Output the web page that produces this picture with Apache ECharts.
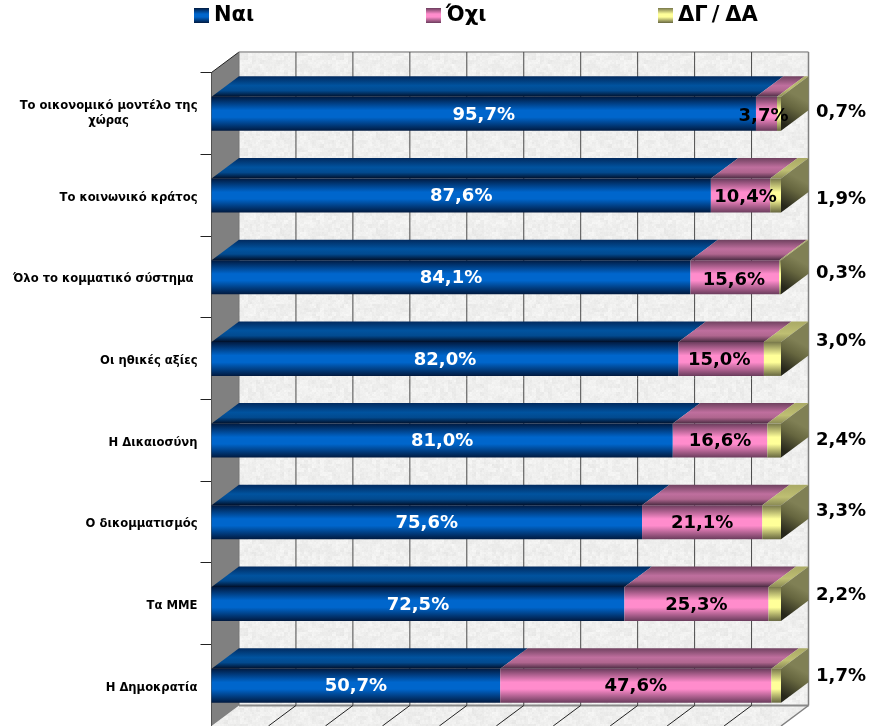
<!DOCTYPE html>
<html><head><meta charset="utf-8">
<style>html,body{margin:0;padding:0;background:#fff;overflow:hidden}#c{width:877px;height:726px}</style>
<script src="https://cdn.jsdelivr.net/npm/echarts@6/dist/echarts.min.js"></script>
</head><body><div id="c"></div>
<script>
const categories = ["Το οικονομικό μοντέλο της\nχώρας","Το κοινωνικό κράτος","Όλο το κομματικό σύστημα ","Οι ηθικές αξίες","Η Δικαιοσύνη","Ο δικομματισμός","Τα ΜΜΕ","Η Δημοκρατία"];
const seriesNames = ["Ναι","Όχι","ΔΓ/ΔΑ"];
const yes = [95.7,87.6,84.1,82.0,81.0,75.6,72.5,50.7];
const no = [3.7,10.4,15.6,15.0,16.6,21.1,25.3,47.6];
const dk = [0.7,1.9,0.3,3.0,2.4,3.3,2.2,1.7];
const valueTicks = [0,10,20,30,40,50,60,70,80,90,100];

// hand-moved labels of the original (pixel nudges, not data)
const noLabelNudge = [[-3,1],[5,1],[-1,2],[-2,0],[0,0],[0,0],[0,0],[0,0]];
const dkLabelY = [111,198,272,340,439,510,594,675];

const DX = 27.5, DY = -20.5, BAR_H = 34, SHIFT = 0.5, FONT = '"DejaVu Sans", Verdana, sans-serif';
const v = (stops)=>({type:'linear',x:0,y:0,x2:0,y2:1,colorStops:stops.map(s=>({offset:s[0],color:s[1]}))});
const front = [
  v([[0,'#011a40'],[.4,'#0066cc'],[.6,'#0066cc'],[1,'#011a40']]),
  v([[0,'#6a3c5c'],[.4,'#ff8ccc'],[.6,'#ff8ccc'],[1,'#6a3c5c']]),
  v([[0,'#77774a'],[.4,'#ffff99'],[.6,'#ffff99'],[1,'#66663f']])
];
const top_ = [
  v([[0,'#022a5e'],[.45,'#01539f'],[.7,'#024a8f'],[1,'#010f28']]),
  v([[0,'#6f415f'],[.45,'#bf6f9e'],[.7,'#b0668f'],[1,'#4a2b42']]),
  v([[0,'#a9a965'],[.6,'#bfbf73'],[1,'#8a8a55']])
];
const side = {type:'linear',x:0,y:0.85,x2:0.55,y2:0.35,colorStops:[{offset:0,color:'#26261a'},{offset:.6,color:'#66663f'},{offset:1,color:'#808055'}]};

function texture(){
  const c=document.createElement('canvas');c.width=c.height=96;const g=c.getContext('2d');
  const h=(x,y)=>{const s=Math.sin(x*127.1+y*311.7)*43758.5453;return s-Math.floor(s);};
  for(let y=0;y<96;y++)for(let x=0;x<96;x++){
    const n=(h(x,y)*.5+h(x>>1,y>>1)+h(x>>2,y>>2)*1.5)/3;
    const k=Math.round(229+n*20);
    g.fillStyle=`rgb(${k},${k},${k-1})`;g.fillRect(x,y,1,1);
  }
  return c;
}
const tex={image:texture(),repeat:'repeat'};

const sums = yes.map((y,i)=>y+no[i]+dk[i]);
const fmt = x=>x.toFixed(1).replace('.',',')+'%';
const poly=(pts,fill,z)=>({type:'polygon',shape:{points:pts},style:{fill:fill,stroke:null},z2:z||0});
const line=(a,b,col,w)=>({type:'line',shape:{x1:a[0],y1:a[1],x2:b[0],y2:b[1]},style:{stroke:col,lineWidth:w||1}});

function wall(params,api){
  const x=api.value(0), n=categories.length;
  const band=api.size([0,1])[1];
  const yT=api.coord([0,0])[1]-band/2, yB=api.coord([0,n-1])[1]+band/2;
  const x0=api.coord([0,0])[0], x1=api.coord([100,0])[0], px=api.coord([x,0])[0];
  const kids=[];
  if(params.dataIndex===0){
    kids.push(poly([[x0+DX,yT+DY],[x1+DX,yT+DY],[x1+DX,yB+DY],[x0+DX,yB+DY]],tex));
    kids.push(poly([[x0,yB],[x0+DX,yB+DY],[x1+DX,yB+DY],[x1,yB]],tex));
    kids.push(poly([[x0,yT],[x0+DX,yT+DY],[x0+DX,yB+DY],[x0,yB]],'#808080'));
    kids.push(line([x0,yT],[x0+DX,yT+DY],'#222',1));
    kids.push(line([x0+DX,yT+DY],[x1+DX,yT+DY],'#b0b0b0',2));
    kids.push(line([x0+DX,yB+DY],[x1+DX,yB+DY],'#8a8a8a',2));
    kids.push(line([x1+DX,yT+DY],[x1+DX,yB+DY],'#808080',1.5));
    kids.push(line([x1+DX,yB+DY],[x1,yB],'#808080',1.5));
  }
  if(x>0 && x<100){
    kids.push(line([px+DX,yT+DY],[px+DX,yB+DY],'#4a4a4a',1));
    kids.push(line([px+DX,yB+DY],[px,yB],'#222',1));
  } else if(x===0){
    kids.push(line([px+DX,yT+DY],[px+DX,yB+DY],'#777',1));
  }
  return {type:'group',children:kids};
}

function barRender(si){
  return function(params,api){
    const i=api.value(0), a=api.value(1), b=api.value(2);
    const p0=api.coord([a,i]), p1=api.coord([b,i]);
    const yc=p0[1]+SHIFT, t=yc-BAR_H/2, bt=yc+BAR_H/2, l=p0[0], r=p1[0];
    const kids=[
      poly([[l,t],[r,t],[r+DX,t+DY],[l+DX,t+DY]],top_[si]),
      poly([[l,t],[r,t],[r,bt],[l,bt]],front[si])
    ];
    if(si===2) kids.push(poly([[r,t],[r+DX,t+DY],[r+DX,bt+DY],[r,bt]],side));
    return {type:'group',children:kids};
  };
}
function labelRender(si){
  return function(params,api){
    const i=api.value(0), a=api.value(1), b=api.value(2), val=api.value(3);
    const p0=api.coord([a,i]), p1=api.coord([b,i]);
    let tx=(p0[0]+p1[0])/2, ty=p0[1]+SHIFT+1;
    if(si===1){tx+=noLabelNudge[i][0];ty+=noLabelNudge[i][1];}
    if(si===2){tx=841;ty=dkLabelY[i]+1;}
    return {type:'text',style:{text:fmt(val),x:tx,y:ty,align:'center',verticalAlign:'middle',
      font:'bold 18px '+FONT,fill:si===0?'#ffffff':'#000000'}};
  };
}
function rows(si){
  return categories.map((c,i)=>{
    const vals=[yes[i],no[i],dk[i]];
    let a=0;for(let k=0;k<si;k++)a+=vals[k]/sums[i]*100;
    return [i,a,a+vals[si]/sums[i]*100,vals[si]];
  });
}
const legendLeft=[194,426,658];
const lgFont={fontFamily:FONT,fontWeight:'bold',fontSize:21,color:'#000'};
const catFont={fontFamily:FONT,fontWeight:'bold',fontSize:11.6,color:'#000',lineHeight:16};
const option={
  animation:false,
  backgroundColor:'#ffffff',
  legend:seriesNames.map((n,i)=>({data:[n],left:legendLeft[i],top:5,padding:0,orient:'horizontal',itemWidth:15,itemHeight:15,itemGap:7,
    icon:'rect',selectedMode:false,
    formatter:s=>s.includes('/')?'{a|'+s.split('/')[0]+'}{s|/}{a|'+s.split('/')[1]+'}':s,
    textStyle:{...lgFont,rich:{a:{...lgFont},s:{...lgFont,padding:[0,6,0,4]}}}})),
  grid:{left:211.5,top:72.5,width:569.5,height:656,containLabel:false},
  xAxis:{type:'value',min:0,max:100,interval:10,show:false},
  yAxis:{type:'category',inverse:true,data:categories,
    axisLine:{show:true,lineStyle:{color:'#222',width:1}},
    axisTick:{show:true,length:11,lineStyle:{color:'#222'}},
    splitLine:{show:false},
    axisLabel:{margin:14,align:'right',...catFont,interval:0,
      formatter:s=>{const l=s.split('\n');return '{p|'+l[0]+'}'+(l[1]?'\n{q|'+l[1]+'}':'');},
      rich:{p:{...catFont,padding:[5,0,0,0]},q:{...catFont,lineHeight:19,width:176,align:'center'}}}},
  series:[
    {type:'custom',name:'_wall',silent:true,z:1,clip:false,coordinateSystem:'cartesian2d',renderItem:wall,data:valueTicks.map(t=>[t]),encode:{x:0}},
    ...seriesNames.map((n,si)=>({type:'custom',name:n,z:2,clip:false,silent:true,coordinateSystem:'cartesian2d',
      itemStyle:{color:front[si]},renderItem:barRender(si),data:rows(si),encode:{x:[1,2],y:0}})),
    ...seriesNames.map((n,si)=>({type:'custom',name:'_l'+si,z:3,clip:false,silent:true,coordinateSystem:'cartesian2d',
      renderItem:labelRender(si),data:rows(si),encode:{x:[1,2],y:0}}))
  ]
};
echarts.init(document.getElementById('c')).setOption(option);
</script></body></html>
